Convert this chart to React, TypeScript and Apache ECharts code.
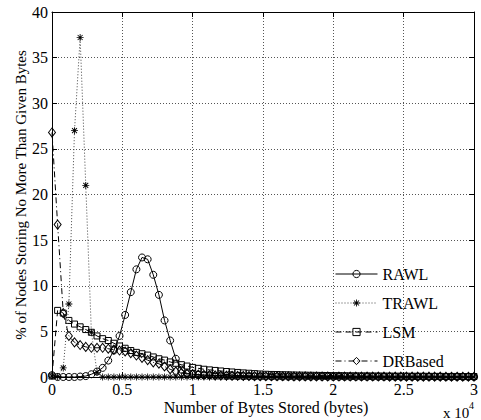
import { useEffect, useRef } from "react";
import * as echarts from "echarts";

// Histogram bins: bytes stored per node (bin width 400 bytes)
const BYTES = [
  0, 400, 800, 1200, 1600, 2000, 2400, 2800, 3200, 3600,
  4000, 4400, 4800, 5200, 5600, 6000, 6400, 6800, 7200, 7600,
  8000, 8400, 8800, 9200, 9600, 10000, 10400, 10800, 11200, 11600,
  12000, 12400, 12800, 13200, 13600, 14000, 14400, 14800, 15200, 15600,
  16000, 16400, 16800, 17200, 17600, 18000, 18400, 18800, 19200, 19600,
  20000, 20400, 20800, 21200, 21600, 22000, 22400, 22800, 23200, 23600,
  24000, 24400, 24800, 25200, 25600, 26000, 26400, 26800, 27200, 27600,
  28000, 28400, 28800, 29200, 29600, 30000,
];

// % of nodes per bin
const RAWL = [
  0.2, 0.0, 0.0, 0.0, 0.0, 0.05, 0.1, 0.3, 0.6, 1.0,
  1.8, 2.9, 4.5, 6.8, 9.3, 11.8, 13.1, 12.9, 11.2, 9.0,
  6.2, 4.0, 2.0, 0.8, 0.4, 0.3, 0.25, 0.2, 0.2, 0.15,
  0.15, 0.12, 0.1, 0.1, 0.08, 0.08, 0.06, 0.05, 0.05, 0.04,
  0.04, 0.03, 0.03, 0.03, 0.03, 0.03, 0.03, 0.03, 0.03, 0.03,
  0.02, 0.02, 0.02, 0.02, 0.02, 0.02, 0.02, 0.02, 0.02, 0.02,
  0.02, 0.02, 0.02, 0.02, 0.02, 0.02, 0.02, 0.02, 0.02, 0.02,
  0.01, 0.01, 0.01, 0.01, 0.01, 0.01,
];

const TRAWL = [
  0.1, 0.05, 1.0, 8.0, 27.0, 37.2, 21.0, 4.9, 0.5, 0,
  0, 0, 0, 0, 0, 0, 0, 0, 0, 0,
  0, 0, 0, 0, 0, 0, 0, 0, 0, 0,
  0, 0, 0, 0, 0, 0, 0, 0, 0, 0,
  0, 0, 0, 0, 0, 0, 0, 0, 0, 0,
  0, 0, 0, 0, 0, 0, 0, 0, 0, 0,
  0, 0, 0, 0, 0, 0, 0, 0, 0, 0,
  0, 0, 0, 0, 0, 0,
];

const LSM = [
  0.1, 7.3, 7.0, 6.2, 5.8, 5.5, 5.2, 4.9, 4.5, 4.2,
  4.0, 3.7, 3.4, 3.15, 2.9, 2.7, 2.55, 2.4, 2.2, 2.0,
  1.85, 1.65, 1.5, 1.35, 1.2, 1.05, 0.95, 0.85, 0.78, 0.72,
  0.66, 0.6, 0.55, 0.5, 0.45, 0.41, 0.37, 0.33, 0.3, 0.28,
  0.27, 0.25, 0.24, 0.22, 0.21, 0.2, 0.19, 0.18, 0.17, 0.16,
  0.15, 0.15, 0.14, 0.13, 0.13, 0.12, 0.12, 0.11, 0.11, 0.1,
  0.1, 0.09, 0.09, 0.09, 0.08, 0.08, 0.08, 0.07, 0.07, 0.07,
  0.06, 0.06, 0.06, 0.05, 0.05, 0.05,
];

const DRBASED = [
  26.8, 16.7, 7.0, 4.5, 3.8, 3.5, 3.3, 3.2, 3.2, 3.2,
  3.1, 3.0, 2.9, 2.8, 2.6, 2.35, 2.1, 1.85, 1.6, 1.45,
  1.15, 0.85, 0.6, 0.45, 0.35, 0.3, 0.26, 0.23, 0.2, 0.18,
  0.16, 0.15, 0.14, 0.13, 0.12, 0.11, 0.1, 0.1, 0.09, 0.09,
  0.08, 0.08, 0.08, 0.07, 0.07, 0.07, 0.06, 0.06, 0.06, 0.06,
  0.05, 0.05, 0.05, 0.05, 0.05, 0.05, 0.05, 0.05, 0.05, 0.05,
  0.04, 0.04, 0.04, 0.04, 0.04, 0.04, 0.04, 0.04, 0.04, 0.04,
  0.03, 0.03, 0.03, 0.03, 0.03, 0.03,
];

const X_TICK_STEP = 5000;
const Y_TICK_STEP = 5;

const FONT = "Liberation Serif";

// eight-spoke asterisk marker built from four thin bars
const ASTERISK =
  "path://M-0.6,-5L0.6,-5L0.6,5L-0.6,5Z" +
  "M-5,-0.6L5,-0.6L5,0.6L-5,0.6Z" +
  "M3.11,-3.96L3.96,-3.11L-3.11,3.96L-3.96,3.11Z" +
  "M-3.96,-3.11L-3.11,-3.96L3.96,3.11L3.11,3.96Z";

export default function App() {
  const ref = useRef<HTMLDivElement>(null);

  useEffect(() => {
    document.body.style.margin = "0";
    const chart = echarts.init(ref.current!, null, { renderer: "svg" });
    const pair = (vals: number[]) => BYTES.map((b, i) => [b, vals[i]]);

    const hollow = {
      color: "none",
      borderColor: "#000",
      borderWidth: 1,
    };

    const frameAxis = {
      axisLine: { show: true, onZero: false, lineStyle: { color: "#000", width: 1 } },
      axisTick: { show: true, inside: true, length: 5, lineStyle: { color: "#000" } },
    };

    chart.setOption({
      animation: false,
      backgroundColor: "#fff",
      grid: { left: 52, right: 3, top: 12, bottom: 43, containLabel: false },
      xAxis: [
        {
          type: "value",
          position: "bottom",
          min: 0,
          max: 30000,
          interval: X_TICK_STEP,
          ...frameAxis,
          axisLabel: {
            color: "#000",
            fontFamily: FONT,
            fontSize: 16,
            margin: 4,
            formatter: (v: number) => String(v / 10000),
          },
          splitLine: { show: true, lineStyle: { color: "#555", width: 1, type: [1, 2] } },
        },
        {
          type: "value",
          position: "top",
          min: 0,
          max: 30000,
          interval: X_TICK_STEP,
          ...frameAxis,
          axisLabel: { show: false },
          splitLine: { show: false },
        },
      ],
      yAxis: [
        {
          type: "value",
          position: "left",
          min: 0,
          max: 40,
          interval: Y_TICK_STEP,
          ...frameAxis,
          axisLabel: { color: "#000", fontFamily: FONT, fontSize: 16, margin: 4 },
          splitLine: { show: true, lineStyle: { color: "#555", width: 1, type: [1, 2] } },
        },
        {
          type: "value",
          position: "right",
          min: 0,
          max: 40,
          interval: Y_TICK_STEP,
          ...frameAxis,
          axisLabel: { show: false },
          splitLine: { show: false },
        },
      ],
      legend: {
        orient: "vertical",
        left: 330,
        top: 261,
        itemWidth: 42,
        itemHeight: 9,
        itemGap: 13,
        itemStyle: { borderWidth: 1 },
        lineStyle: { width: 1 },
        textStyle: { color: "#000", fontFamily: FONT, fontSize: 16 },
        data: ["RAWL", "TRAWL", "LSM", "DRBased"],
      },
      series: [
        {
          name: "RAWL",
          type: "line",
          data: pair(RAWL),
          symbol: "circle",
          symbolSize: 7,
          showSymbol: true,
          itemStyle: hollow,
          lineStyle: { color: "#000", width: 1, type: "solid" },
          z: 4,
        },
        {
          name: "TRAWL",
          type: "line",
          data: pair(TRAWL),
          symbol: ASTERISK,
          symbolSize: 7,
          showSymbol: true,
          itemStyle: { color: "#000", borderWidth: 0 },
          lineStyle: { color: "#444", width: 1, type: [1, 2] },
          z: 3,
        },
        {
          name: "LSM",
          type: "line",
          data: pair(LSM),
          symbol: "rect",
          symbolSize: 6,
          showSymbol: true,
          itemStyle: hollow,
          lineStyle: { color: "#000", width: 1, type: [6, 4] },
          z: 2,
        },
        {
          name: "DRBased",
          type: "line",
          data: pair(DRBASED),
          symbol: "diamond",
          symbolSize: [7, 9],
          showSymbol: true,
          itemStyle: hollow,
          lineStyle: { color: "#000", width: 1, type: [6, 3, 1, 3] },
          z: 1,
        },
      ],
      graphic: [
        {
          type: "text",
          x: 21,
          y: 195,
          rotation: Math.PI / 2,
          style: {
            text: "% of Nodes Storing No More Than Given Bytes",
            fontFamily: FONT,
            fontSize: 15,
            fill: "#000",
            align: "center",
            verticalAlign: "middle",
          },
        },
        {
          type: "text",
          x: 266,
          y: 407,
          style: {
            text: "Number of Bytes Stored (bytes)",
            fontFamily: FONT,
            fontSize: 16,
            fill: "#000",
            align: "center",
            verticalAlign: "middle",
          },
        },
        {
          type: "text",
          x: 443,
          y: 413,
          style: {
            text: "x 10",
            fontFamily: FONT,
            fontSize: 15,
            fill: "#000",
            align: "left",
            verticalAlign: "middle",
          },
        },
        {
          type: "text",
          x: 469,
          y: 405,
          style: {
            text: "4",
            fontFamily: FONT,
            fontSize: 10,
            fill: "#000",
            align: "left",
            verticalAlign: "middle",
          },
        },
      ],
    });

    return () => chart.dispose();
  }, []);

  return <div ref={ref} style={{ width: 481, height: 420 }} />;
}
